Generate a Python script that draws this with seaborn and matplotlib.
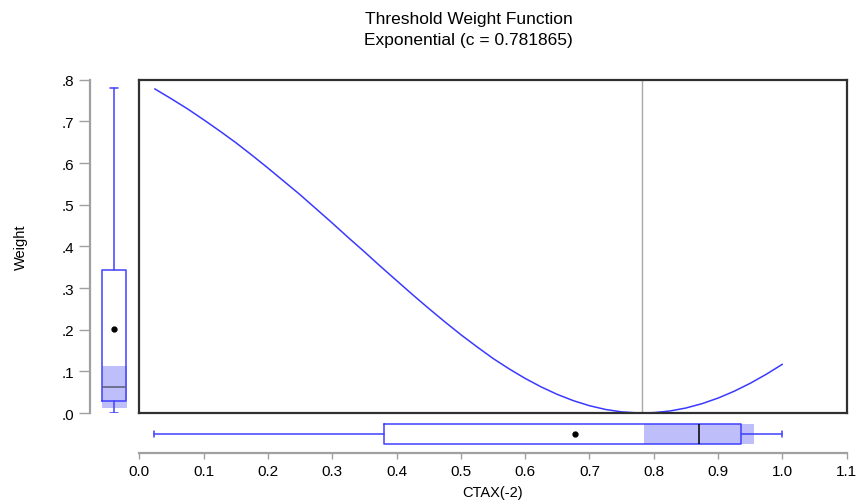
import numpy as np
import pandas as pd
import seaborn as sns
import matplotlib.pyplot as plt

# threshold value and weight curve
c_value = 0.781865
ctax_grid = [0.024, 0.05, 0.075, 0.10, 0.125, 0.15, 0.175, 0.20, 0.225, 0.25,
             0.275, 0.30, 0.325, 0.35, 0.375, 0.40, 0.425, 0.45, 0.475, 0.50,
             0.525, 0.55, 0.575, 0.60, 0.625, 0.65, 0.675, 0.70, 0.725, 0.75,
             0.775, 0.781865, 0.80, 0.825, 0.85, 0.875, 0.90, 0.925, 0.95,
             0.975, 1.00]
weight_curve = [0.778, 0.754, 0.730, 0.704, 0.677, 0.649, 0.619, 0.588, 0.556, 0.524,
                0.490, 0.456, 0.421, 0.387, 0.352, 0.318, 0.284, 0.251, 0.219, 0.188,
                0.159, 0.131, 0.106, 0.083, 0.0625, 0.0446, 0.0296, 0.0175, 0.0085, 0.0027,
                0.0001, 0.0, 0.0008, 0.0048, 0.0120, 0.0224, 0.0358, 0.0522, 0.0713,
                0.0930, 0.117]

# box plot summaries: [whisker low, q1, median, q3, whisker high, mean, median ci low, median ci high]
weight_box = [0.0, 0.028, 0.063, 0.344, 0.779, 0.202, 0.012, 0.112]
ctax_box = [0.023, 0.381, 0.871, 0.935, 1.0, 0.678, 0.785, 0.956]

x_ticks = [0.0, 0.1, 0.2, 0.3, 0.4, 0.5, 0.6, 0.7, 0.8, 0.9, 1.0, 1.1]
x_ticklabels = ["0.0", "0.1", "0.2", "0.3", "0.4", "0.5", "0.6", "0.7", "0.8", "0.9", "1.0", "1.1"]
y_ticks = [0.0, 0.1, 0.2, 0.3, 0.4, 0.5, 0.6, 0.7, 0.8]
y_ticklabels = [".0", ".1", ".2", ".3", ".4", ".5", ".6", ".7", ".8"]

sns.set_theme(style="white")
plt.rcParams['font.family'] = ['Liberation Sans', 'DejaVu Sans']

BLUE = "#4040ff"
SHADE = "#bebefa"
GRAYAX = "#a0a0a0"

W, H = 860, 502
fig = plt.figure(figsize=(W / 100, H / 100), dpi=100)


def rect(l, t, r, b):
    return [l / W, 1 - b / H, (r - l) / W, (b - t) / H]


ax = fig.add_axes(rect(139.3, 80.7, 846.7, 414))
axl = fig.add_axes(rect(90, 80.7, 138.6, 414))
axb = fig.add_axes(rect(139.3, 415.7, 846.7, 454.3))

# main curve
df = pd.DataFrame({"ctax": ctax_grid, "weight": weight_curve})
sns.lineplot(data=df, x="ctax", y="weight", ax=ax, color="#3a3aff", lw=1.1)
ax.axvline(c_value, color="#a8a8a8", lw=1.0, zorder=1)
ax.set_xlim(0, 1.1)
ax.set_ylim(0, 0.8)
ax.set_xticks([])
ax.set_yticks([])
ax.set_xlabel("")
ax.set_ylabel("")
for s in ax.spines.values():
    s.set_color("#303030")
    s.set_linewidth(1.6)


def stats_of(b):
    return [{"whislo": b[0], "q1": b[1], "med": b[2], "q3": b[3], "whishi": b[4],
             "mean": b[5], "fliers": []}]


def draw_box(a, b, vert, med_color, cap):
    a.bxp(stats_of(b), positions=[0], widths=0.5, vert=vert, showmeans=True,
          showfliers=False, capwidths=cap,
          boxprops=dict(color=BLUE, lw=1.1),
          whiskerprops=dict(color=BLUE, lw=1.1),
          capprops=dict(color=BLUE, lw=1.1),
          medianprops=dict(color=med_color, lw=1.1),
          meanprops=dict(marker="o", markersize=3.5, markerfacecolor="black",
                         markeredgecolor="black"),
          zorder=3)
    if vert:
        a.fill_between([-0.25, 0.27], b[6], b[7], color=SHADE, lw=0, zorder=1)
    else:
        a.fill_betweenx([-0.25, 0.27], b[6], b[7], color=SHADE, lw=0, zorder=1)


# left box plot (weight)
draw_box(axl, weight_box, True, "#5a5a78", 0.17)
axl.set_xlim(-0.5, 0.5)
axl.set_ylim(0, 0.8)
axl.set_xticks([])
axl.set_yticks(y_ticks)
axl.set_yticklabels(y_ticklabels, fontsize=11, color="black")
axl.tick_params(axis="y", left=True, length=8, width=1.0, color=GRAYAX, pad=3.5)
axl.set_ylabel("Weight", fontsize=10.5, color="black", labelpad=24)
for k, s in axl.spines.items():
    s.set_visible(k == "left")
axl.spines["left"].set_color(GRAYAX)
axl.spines["left"].set_linewidth(1.6)
axl.set_facecolor("none")

# bottom box plot (ctax)
draw_box(axb, ctax_box, False, "black", 0.14)
axb.set_ylim(0.5, -0.5)
axb.set_xlim(0, 1.1)
axb.set_yticks([])
axb.set_xticks(x_ticks)
axb.set_xticklabels(x_ticklabels, fontsize=11, color="black")
axb.tick_params(axis="x", bottom=True, length=4.5, width=1.0, color=GRAYAX, pad=3)
axb.set_xlabel("CTAX(-2)", fontsize=10.5, color="black", labelpad=5)
for k, s in axb.spines.items():
    s.set_visible(k == "bottom")
axb.spines["bottom"].set_color(GRAYAX)
axb.spines["bottom"].set_linewidth(1.6)
axb.set_facecolor("none")

fig.text(468.5 / W, 1 - 30 / H, "Threshold Weight Function\nExponential (c = 0.781865)",
         ha="center", va="center", fontsize=12.5, linespacing=1.45, color="black")

fig.savefig("out.png", dpi=100)
